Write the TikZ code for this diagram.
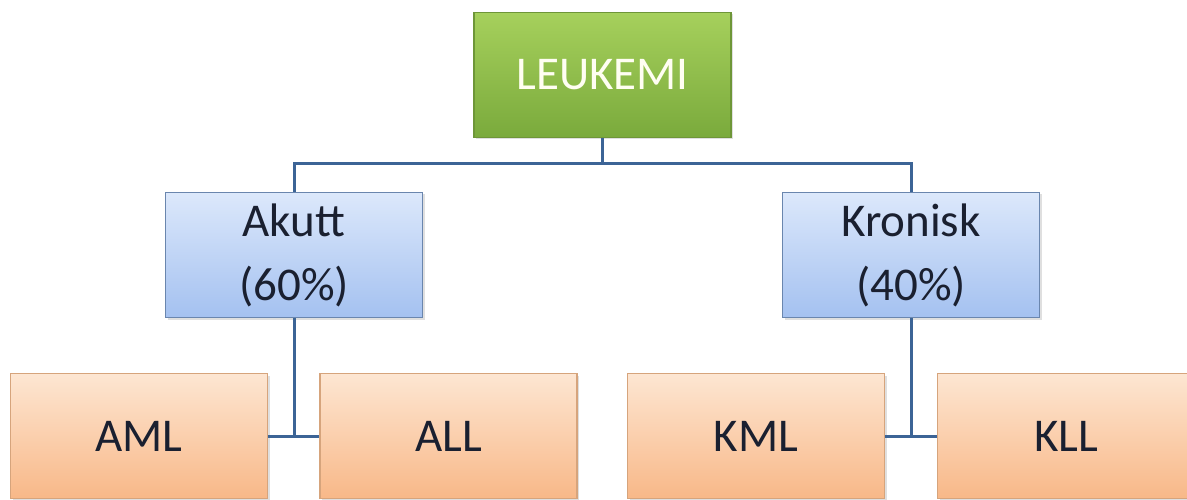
\documentclass[tikz,border=0pt]{standalone}
\usepackage{fontspec}
\setmainfont{Carlito}
\usetikzlibrary{shadows}
\definecolor{gtop}{HTML}{A6D05C}
\definecolor{gbot}{HTML}{7AAA3C}
\definecolor{gline}{HTML}{6E9638}
\definecolor{btop}{HTML}{DCE8FB}
\definecolor{bbot}{HTML}{A4C1F0}
\definecolor{bline}{HTML}{6A86AE}
\definecolor{otop}{HTML}{FDE6D2}
\definecolor{obot}{HTML}{F8B888}
\definecolor{oline}{HTML}{D6A47C}
\definecolor{conn}{HTML}{3C6496}
\definecolor{txt}{HTML}{1A2030}
\begin{document}
\begin{tikzpicture}[x=1pt,y=-1pt,
  box/.style={draw, line width=1.2pt, minimum width=257pt, minimum height=125pt, inner sep=0pt,
    align=center, font=\fontsize{47}{64}\selectfont,
    drop shadow={shadow xshift=2pt, shadow yshift=-2pt, opacity=0.25}},
  topbox/.style={box, draw=gline, top color=gtop, bottom color=gbot, text=white!95!yellow},
  midbox/.style={box, draw=bline, top color=btop, bottom color=bbot, text=txt},
  leafbox/.style={box, draw=oline, top color=otop, bottom color=obot, text=txt},
  conn/.style={draw=conn, line width=3pt}]
\useasboundingbox[fill=white] (0,0) rectangle (1187,500);
\node[topbox] (L) at (602.5,75) {LEUKEMI};
\node[midbox] (A) at (294,255) {Akutt\\(60\%)};
\node[midbox] (K) at (911,255) {Kronisk\\(40\%)};
\node[leafbox] (AML) at (139,436) {AML};
\node[leafbox] (ALL) at (448.5,436) {ALL};
\node[leafbox] (KML) at (756,436) {KML};
\node[leafbox] (KLL) at (1066,436) {KLL};
\coordinate (bus) at (0,164);
\draw[conn] (L.south) -- (L.south |- bus);
\draw[conn] (A.north) -- (A.north |- bus) -- (K.north |- bus) -- (K.north);
\draw[conn] (A.south) -- (A.south |- AML.east);
\draw[conn] (AML.east) -- (ALL.west);
\draw[conn] (K.south) -- (K.south |- KML.east);
\draw[conn] (KML.east) -- (KLL.west);
\end{tikzpicture}
\end{document}
